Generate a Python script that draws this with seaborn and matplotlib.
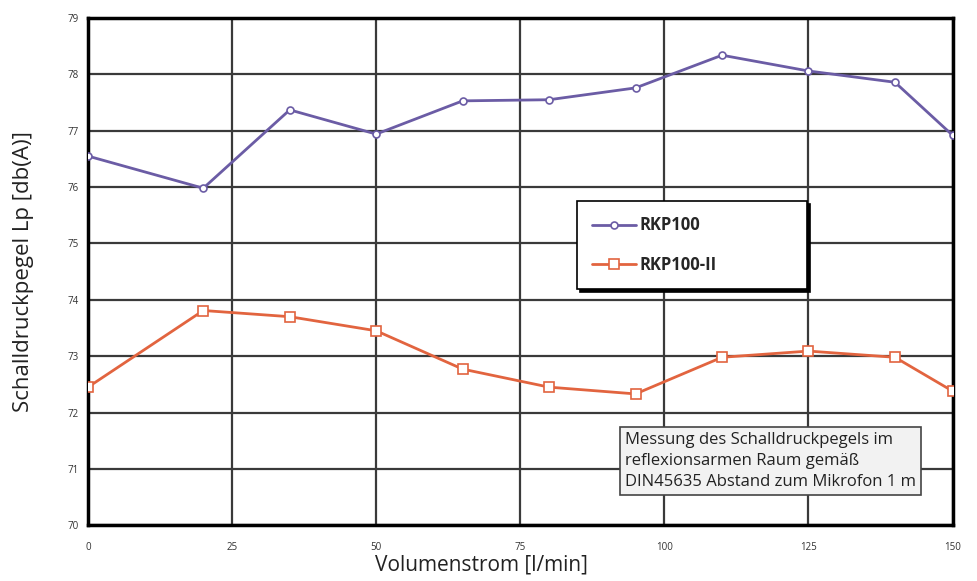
import matplotlib
matplotlib.use("Agg")
import matplotlib.pyplot as plt
import numpy as np
import pandas as pd
import seaborn as sns

# values
volumenstrom = [0, 20, 35, 50, 65, 80, 95, 110, 125, 140, 150]
rkp100 = [76.55, 75.98, 77.37, 76.94, 77.53, 77.55, 77.76, 78.34, 78.06, 77.86, 76.92]
rkp100_ii = [72.45, 73.81, 73.70, 73.45, 72.77, 72.45, 72.33, 72.98, 73.09, 72.98, 72.38]
series_names = ["RKP100", "RKP100-II"]
x_ticks = [0, 25, 50, 75, 100, 125, 150]
y_ticks = list(range(70, 80))
note_text = ("Messung des Schalldruckpegels im\n"
             "reflexionsarmen Raum gemäß\n"
             "DIN45635 Abstand zum Mikrofon 1 m")

colors = {"RKP100": "#6b5ca5", "RKP100-II": "#e2643f"}
markers = {"RKP100": "o", "RKP100-II": "s"}

df = pd.DataFrame({
    "Volumenstrom": volumenstrom * 2,
    "Pegel": rkp100 + rkp100_ii,
    "Serie": [series_names[0]] * len(volumenstrom) + [series_names[1]] * len(volumenstrom),
})

sns.set_style("white")
plt.rcParams["font.family"] = ["Open Sans", "DejaVu Sans"]

fig, ax = plt.subplots(figsize=(9.78, 5.81), dpi=100)
fig.subplots_adjust(left=0.09, right=0.974, top=0.969, bottom=0.096)

for name in series_names:
    sns.lineplot(
        data=df[df["Serie"] == name], x="Volumenstrom", y="Pegel",
        color=colors[name], marker=markers[name], markersize=5 if name == "RKP100" else 6.5,
        markerfacecolor="white", markeredgecolor=colors[name], markeredgewidth=1.2,
        linewidth=2.0, label=name, ax=ax, zorder=3,
    )

ax.set_xlim(0, 150)
ax.set_ylim(70, 79)
ax.set_xticks(x_ticks)
ax.set_yticks(y_ticks)
ax.tick_params(axis="both", labelsize=7, colors="#333333", length=3)
ax.tick_params(axis="x", pad=9)
ax.grid(True, color="#3a3a3a", linewidth=1.6)
ax.set_axisbelow(True)
for side in ["top", "right", "bottom", "left"]:
    ax.spines[side].set_color("black")
    ax.spines[side].set_linewidth(2.5)

ax.set_xlabel("Volumenstrom [l/min]", fontsize=15, color="#222222")
ax.set_ylabel("Schalldruckpegel Lp [db(A)]", fontsize=16, color="#222222")
ax.xaxis.set_label_coords(0.455, -0.058)
ax.yaxis.set_label_coords(-0.062, 0.5)

leg = ax.legend(
    loc="center left", bbox_to_anchor=(0.566, 0.463, 0.266, 0.178), mode="expand",
    frameon=True, fancybox=False,
    shadow={"color": "black", "alpha": 1.0}, edgecolor="black", framealpha=1,
    prop={"weight": "bold", "size": 12}, labelspacing=1.3, borderpad=0.9,
    handlelength=2.6, handletextpad=0.2, borderaxespad=0,
)
leg.get_frame().set_linewidth(1.2)

ax.text(
    0.621, 0.183, note_text, transform=ax.transAxes, ha="left", va="top",
    fontsize=12, color="#222222", linespacing=1.4, zorder=5,
    bbox={"boxstyle": "square,pad=0.3", "facecolor": "#f2f2f2", "edgecolor": "#444444", "linewidth": 1.2},
)

fig.savefig("out.png", dpi=100)
